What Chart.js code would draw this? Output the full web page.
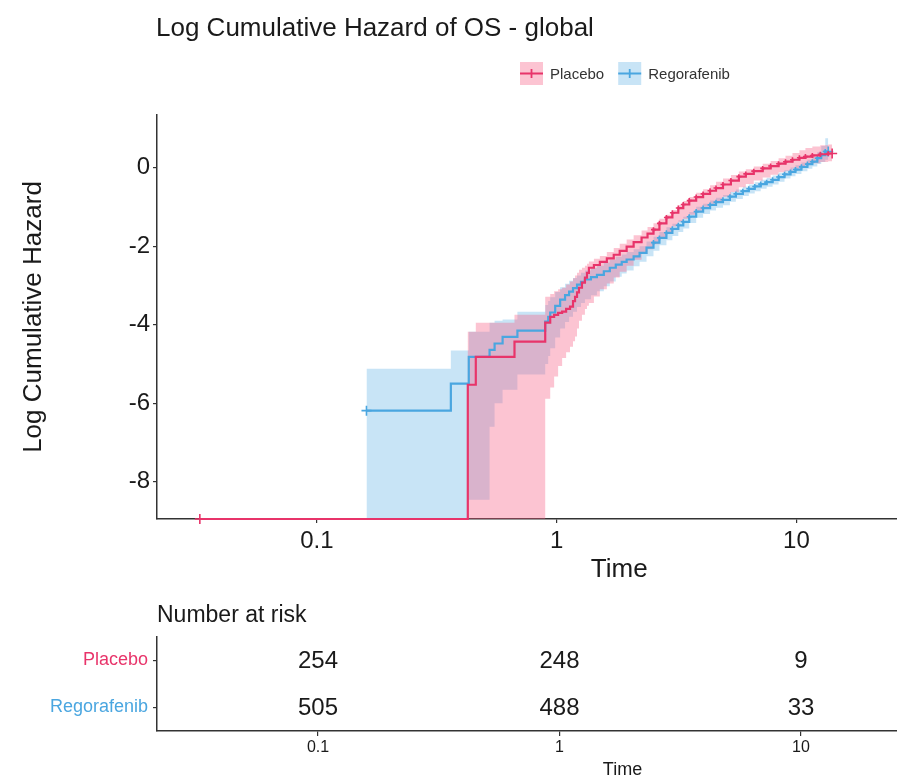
<!DOCTYPE html>
<html>
<head>
    <title>Log Cumulative Hazard of OS - global</title>
    <script src="https://cdn.jsdelivr.net/npm/chart.js"></script>
    <style>
        html, body { margin: 0; padding: 0; background: #fff; overflow: hidden; }
        #wrap { position: relative; width: 897px; height: 782px; overflow: hidden; }
        /* panel is wider than the window: the right side of the plot is cropped like the original */
        .box { position: absolute; left: 0; width: 1088px; }
        #top { top: 0; height: 590px; }
        #risk { top: 590px; height: 192px; }
    </style>
</head>
<body>
<div id="wrap">
    <div class="box" id="top"><canvas id="hazChart"></canvas></div>
    <div class="box" id="risk"><canvas id="riskChart"></canvas></div>
</div>
<script>
    const FONT = "'Liberation Sans', Arial, sans-serif";
    const RED = '#E8346A';
    const BLUE = '#4AA6E0';
    const PINK_BAND = 'rgba(248, 92, 130, 0.36)';
    const BLUE_BAND = 'rgba(74, 166, 224, 0.30)';
    const AXIS_MIN = -8.95;   // bottom of panel, -Inf is drawn here
    const AXIS_MAX = 1.34;
    const TIME_MIN = 0.02154;
    const TIME_MAX = 154.3;

    const groups = ['Placebo', 'Regorafenib'];
    const tickTimes = [0.1, 1, 10];
    const hazTicks = [-8, -6, -4, -2, 0];

    // Placebo: step times, log cumulative hazard, confidence band
    const placeboTime = [0.0325, 0.426, 0.460, 0.667,
        0.896, 0.940, 0.976, 1.014, 1.054, 1.095, 1.137, 1.170, 1.193, 1.216,
        1.239, 1.275, 1.312, 1.338, 1.363, 1.430, 1.514, 1.619, 1.730, 1.832,
        1.958, 2.094, 2.260, 2.393, 2.534, 2.683, 2.869, 3.038, 3.216, 3.373,
        3.572, 3.818, 4.081, 4.363, 4.619, 4.939, 5.330, 5.752, 6.149, 6.637,
        7.232, 7.805, 8.424, 9.005, 9.626, 10.29, 10.90, 11.65, 12.57, 13.57, 14.09];
    const placeboHaz = [-8.95, -5.53, -4.82, -4.43,
        -3.95, -3.80, -3.75, -3.70, -3.67, -3.60, -3.54, -3.40, -3.29, -3.18,
        -3.06, -2.93, -2.80, -2.68, -2.55, -2.48, -2.40, -2.31, -2.22, -2.12,
        -2.01, -1.90, -1.78, -1.68, -1.58, -1.42, -1.27, -1.15, -1.03, -0.94,
        -0.84, -0.75, -0.67, -0.59, -0.52, -0.43, -0.33, -0.23, -0.16, -0.09,
        -0.02, 0.04, 0.10, 0.15, 0.20, 0.25, 0.28, 0.31, 0.34, 0.36, 0.36];
    const placeboUpper = [-8.95, -4.18, -3.95, -3.75,
        -3.29, -3.22, -3.15, -3.10, -3.06, -2.98, -2.90, -2.82, -2.75, -2.68,
        -2.60, -2.55, -2.50, -2.45, -2.39, -2.32, -2.25, -2.15, -2.05, -1.94,
        -1.83, -1.72, -1.60, -1.51, -1.42, -1.30, -1.20, -1.08, -0.96, -0.85,
        -0.75, -0.64, -0.55, -0.45, -0.36, -0.28, -0.19, -0.10, -0.04, 0.03,
        0.10, 0.17, 0.24, 0.30, 0.37, 0.44, 0.50, 0.54, 0.57, 0.59, 0.59];
    const placeboLower = [-8.95, -8.95, -8.95, -8.95,
        -5.89, -5.60, -5.32, -5.05, -4.85, -4.70, -4.56, -4.42, -4.30, -4.10,
        -3.90, -3.75, -3.60, -3.52, -3.45, -3.28, -3.10, -2.95, -2.80, -2.65,
        -2.50, -2.35, -2.20, -2.08, -1.95, -1.80, -1.65, -1.50, -1.38, -1.30,
        -1.20, -1.10, -1.00, -0.92, -0.85, -0.74, -0.62, -0.50, -0.42, -0.33,
        -0.25, -0.18, -0.12, -0.08, -0.02, 0.04, 0.08, 0.11, 0.14, 0.16, 0.16];

    // Regorafenib
    const regoTime = [0.161, 0.362, 0.430, 0.525, 0.551, 0.595, 0.686,
        0.896, 0.922, 0.940, 0.986, 1.034, 1.084, 1.127, 1.170, 1.216, 1.263,
        1.312, 1.390, 1.472, 1.573, 1.666, 1.764, 1.868, 1.958, 2.094, 2.217,
        2.370, 2.534, 2.683, 2.869, 3.038, 3.216, 3.373, 3.572, 3.818, 4.081,
        4.363, 4.619, 4.939, 5.279, 5.590, 5.976, 6.328, 6.700, 7.095, 7.513,
        7.955, 8.424, 8.919, 9.444, 9.905, 10.49, 11.11, 11.65, 12.22, 12.69, 13.19, 13.57];
    const regoHaz = [-6.19, -5.50, -4.82, -4.64, -4.48, -4.31, -4.15,
        -3.92, -3.80, -3.69, -3.52, -3.36, -3.25, -3.16, -3.07, -2.98, -2.91,
        -2.85, -2.79, -2.73, -2.64, -2.55, -2.47, -2.40, -2.34, -2.26, -2.17,
        -2.04, -1.91, -1.79, -1.66, -1.56, -1.47, -1.38, -1.25, -1.12, -1.03,
        -0.95, -0.88, -0.82, -0.74, -0.67, -0.60, -0.54, -0.48, -0.42, -0.37,
        -0.31, -0.24, -0.17, -0.11, -0.05, 0.02, 0.09, 0.15, 0.24, 0.32, 0.41, 0.41];
    const regoUpper = [-5.12, -4.66, -4.18, -3.95, -3.90, -3.87, -3.67,
        -3.50, -3.40, -3.30, -3.17, -3.05, -2.96, -2.88, -2.81, -2.75, -2.68,
        -2.62, -2.56, -2.50, -2.42, -2.35, -2.27, -2.21, -2.15, -2.08, -2.00,
        -1.88, -1.76, -1.64, -1.52, -1.43, -1.34, -1.25, -1.13, -1.00, -0.92,
        -0.84, -0.77, -0.70, -0.62, -0.56, -0.49, -0.43, -0.37, -0.31, -0.26,
        -0.20, -0.13, -0.06, 0.00, 0.06, 0.13, 0.20, 0.27, 0.40, 0.55, 0.75, 0.75];
    const regoLower = [-8.95, -8.95, -8.46, -6.60, -6.00, -5.66, -5.27,
        -5.00, -4.80, -4.60, -4.33, -4.10, -3.93, -3.80, -3.67, -3.55, -3.45,
        -3.35, -3.25, -3.15, -3.02, -2.90, -2.78, -2.70, -2.62, -2.51, -2.40,
        -2.26, -2.12, -1.98, -1.85, -1.74, -1.64, -1.55, -1.41, -1.28, -1.18,
        -1.09, -1.02, -0.96, -0.87, -0.80, -0.72, -0.66, -0.60, -0.54, -0.49,
        -0.43, -0.36, -0.28, -0.22, -0.16, -0.09, -0.03, 0.03, 0.09, 0.14, 0.20, 0.20];

    // Number at risk
    const riskTimes = [0.1, 1, 10];
    const riskPlacebo = [254, 248, 9];
    const riskRego = [505, 488, 33];

    Chart.defaults.font.family = FONT;
    Chart.defaults.color = '#1a1a1a';

    function pts(t, v) {
        return t.map((x, i) => ({x: x, y: v[i]}));
    }

    // big cross at the first and last step, small censor crosses later on
    function censorSize(ctx) {
        const n = ctx.dataset.data.length;
        if (ctx.dataIndex === 0 || ctx.dataIndex === n - 1) return 5;
        return ctx.dataset.data[ctx.dataIndex].x > 2.5 ? 2.5 : 0;
    }

    function line(label, data, color) {
        return {
            label: label, data: data, borderColor: color, borderWidth: 2.2, stepped: true, fill: false,
            pointStyle: 'cross', pointRadius: censorSize, pointBorderColor: color, pointBorderWidth: 1.6,
            clip: 6
        };
    }

    function band(data, color, fill) {
        return {
            data: data, borderWidth: 0, borderColor: 'rgba(0,0,0,0)', backgroundColor: color,
            pointRadius: 0, stepped: true, fill: fill
        };
    }

    const axisGrid = {drawOnChartArea: false, drawTicks: true, tickLength: 4, color: '#333', lineWidth: 1.2};
    const axisBorder = {display: true, color: '#333', width: 1.5};

    const headerPlugin = {
        id: 'header',
        afterDraw(chart) {
            const ctx = chart.ctx;
            ctx.save();
            ctx.fillStyle = '#1a1a1a';
            ctx.font = '26px ' + FONT;
            ctx.textBaseline = 'alphabetic';
            ctx.textAlign = 'left';
            ctx.fillText('Log Cumulative Hazard of OS - global', chart.chartArea.left - 1, 36);

            // legend
            const keys = [[RED, PINK_BAND], [BLUE, BLUE_BAND]];
            const s = 23, yTop = 62;
            let x = 520;
            ctx.font = '15px ' + FONT;
            ctx.textBaseline = 'middle';
            groups.forEach((name, i) => {
                ctx.fillStyle = keys[i][1];
                ctx.fillRect(x, yTop, s, s);
                ctx.strokeStyle = keys[i][0];
                ctx.lineWidth = 1.8;
                ctx.beginPath();
                ctx.moveTo(x, yTop + s / 2);
                ctx.lineTo(x + s, yTop + s / 2);
                ctx.moveTo(x + s / 2, yTop + s / 2 - 4.5);
                ctx.lineTo(x + s / 2, yTop + s / 2 + 4.5);
                ctx.stroke();
                x += s + 7;
                ctx.fillStyle = '#333';
                ctx.fillText(name, x, yTop + s / 2 + 1);
                x += ctx.measureText(name).width + 14;
            });
            ctx.restore();
        }
    };

    new Chart(document.getElementById('hazChart'), {
        type: 'line',
        data: {
            datasets: [
                line('Placebo', pts(placeboTime, placeboHaz), RED),
                line('Regorafenib', pts(regoTime, regoHaz), BLUE),
                band(pts(placeboTime, placeboUpper), PINK_BAND, '+1'),
                band(pts(placeboTime, placeboLower), PINK_BAND, false),
                band(pts(regoTime, regoUpper), BLUE_BAND, '+1'),
                band(pts(regoTime, regoLower), BLUE_BAND, false)
            ]
        },
        options: {
            responsive: true,
            maintainAspectRatio: false,
            animation: false,
            layout: {padding: {top: 115, left: 0, right: 0, bottom: 0}},
            plugins: {legend: {display: false}, tooltip: {enabled: false}},
            scales: {
                x: {
                    type: 'logarithmic', min: TIME_MIN, max: TIME_MAX,
                    afterBuildTicks: s => { s.ticks = tickTimes.map(v => ({value: v})); },
                    afterFit: s => { s.height = 71; },
                    ticks: {font: {size: 24}, padding: 4, autoSkip: false, maxRotation: 0, callback: v => String(v)},
                    grid: axisGrid,
                    border: axisBorder,
                    title: {display: true, text: 'Time', font: {size: 26}, padding: {top: 0, bottom: 5}}
                },
                y: {
                    type: 'linear', min: AXIS_MIN, max: AXIS_MAX,
                    afterBuildTicks: s => { s.ticks = hazTicks.map(v => ({value: v})); },
                    afterFit: s => { s.width = 157; },
                    ticks: {font: {size: 24}, padding: 3},
                    grid: axisGrid,
                    border: axisBorder,
                    title: {display: true, text: 'Log Cumulative Hazard', font: {size: 26}, padding: {top: 18, bottom: 0}}
                }
            }
        },
        plugins: [headerPlugin]
    });

    // risk table: numbers are drawn where the library puts each point
    const riskValues = [riskPlacebo, riskRego];
    const riskPlugin = {
        id: 'riskNumbers',
        afterDatasetsDraw(chart) {
            const ctx = chart.ctx;
            ctx.save();
            ctx.fillStyle = '#1a1a1a';
            ctx.font = '24px ' + FONT;
            ctx.textAlign = 'center';
            ctx.textBaseline = 'middle';
            chart.data.datasets.forEach((ds, d) => {
                chart.getDatasetMeta(d).data.forEach((pt, i) => {
                    ctx.fillText(String(riskValues[d][i]), pt.x, pt.y + 1);
                });
            });
            ctx.font = '23px ' + FONT;
            ctx.textAlign = 'left';
            ctx.textBaseline = 'alphabetic';
            ctx.fillText('Number at risk', chart.chartArea.left, 32);
            ctx.restore();
        }
    };

    new Chart(document.getElementById('riskChart'), {
        type: 'scatter',
        data: {
            datasets: groups.map(g => ({
                label: g,
                data: riskTimes.map(t => ({x: t, y: g})),
                pointRadius: 0
            }))
        },
        options: {
            responsive: true,
            maintainAspectRatio: false,
            animation: false,
            layout: {padding: {top: 47, left: 0, right: 0, bottom: 0}},
            plugins: {legend: {display: false}, tooltip: {enabled: false}},
            scales: {
                x: {
                    type: 'logarithmic', min: TIME_MIN, max: TIME_MAX,
                    afterBuildTicks: s => { s.ticks = tickTimes.map(v => ({value: v})); },
                    afterFit: s => { s.height = 51; },
                    ticks: {font: {size: 16}, padding: 2, autoSkip: false, maxRotation: 0, callback: v => String(v)},
                    grid: {drawOnChartArea: false, drawTicks: true, tickLength: 5, color: '#333', lineWidth: 1.2},
                    border: axisBorder,
                    title: {display: true, text: 'Time', font: {size: 18}, padding: {top: 0, bottom: 1}}
                },
                y: {
                    type: 'category', labels: groups, offset: true,
                    afterFit: s => { s.width = 157; },
                    ticks: {font: {size: 18}, padding: 5, color: ctx => ctx.index === 0 ? RED : BLUE},
                    grid: axisGrid,
                    border: axisBorder
                }
            }
        },
        plugins: [riskPlugin]
    });
</script>
</body>
</html>
